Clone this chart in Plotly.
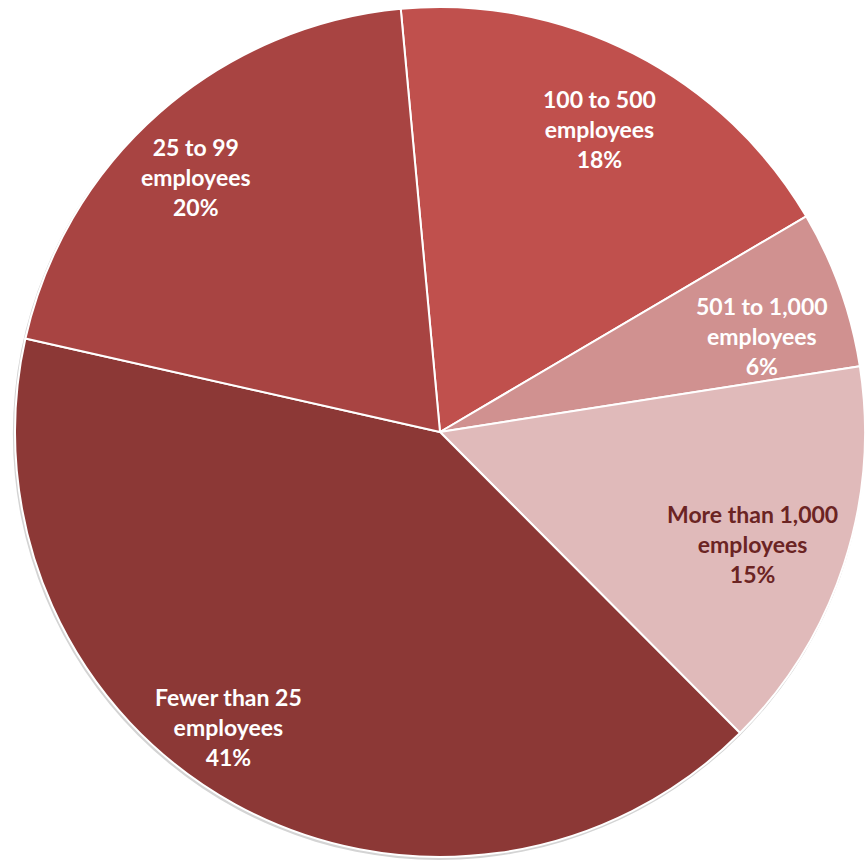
import math
import plotly.graph_objects as go

categories = ["100 to 500<br>employees", "501 to 1,000<br>employees", "More than 1,000<br>employees",
              "Fewer than 25<br>employees", "25 to 99<br>employees"]
values = [18, 6, 15, 41, 20]
colors = ["#C0504D", "#D09190", "#E0BABA", "#8C3836", "#A84442"]
text_colors = ["white", "white", "#6B2423", "white", "white"]
label_radius = [0.807, 0.79, 0.78, 0.854, 0.83]
label_angle_shift = [0.7, 3.0, 1.6, 6.8, -2.4]

W = H = 865
cx, cy, R = 440, 432, 425
rotation = -5.3


def dom(x0, y0, r):
    return dict(x=[max(0, (x0 - r) / W), min(1, (x0 + r) / W)],
                y=[max(0, (H - y0 - r) / H), min(1, (H - y0 + r) / H)])


fig = go.Figure()
# soft shadow under the pie
fig.add_trace(go.Pie(
    values=[1], labels=["shadow"], sort=False, marker=dict(colors=["#D4D4D4"], line=dict(width=0)),
    textinfo="none", hoverinfo="skip", showlegend=False, domain=dom(cx, cy + 2, R + 2),
))
fig.add_trace(go.Pie(
    labels=categories, values=values, sort=False, direction="clockwise", rotation=rotation,
    marker=dict(colors=colors, line=dict(color="white", width=2)),
    textinfo="none", hoverinfo="label+percent", showlegend=False,
    domain=dom(cx, cy, R),
))

total = sum(values)
cum = 0
annotations = []
for lab, v, tc, fr, da in zip(categories, values, text_colors, label_radius, label_angle_shift):
    mid = rotation + (cum + v / 2) / total * 360 + da
    cum += v
    a = math.radians(mid)
    px = cx + fr * R * math.sin(a)
    py = cy - fr * R * math.cos(a)
    pct = round(v / total * 100)
    annotations.append(dict(
        x=px / W, y=1 - py / H, xref="paper", yref="paper", showarrow=False,
        xanchor="center", yanchor="middle",
        text=f"{lab}<br>{pct}%", align="center",
        font=dict(family="Lato", size=23, color=tc, weight="bold"),
    ))

fig.update_layout(
    width=W, height=H, margin=dict(l=0, r=0, t=0, b=0),
    paper_bgcolor="white", plot_bgcolor="white", annotations=annotations,
)
fig.write_html("out.html", config={"displayModeBar": False},
               post_script="document.body.style.margin='0';document.body.style.overflow='hidden';")
